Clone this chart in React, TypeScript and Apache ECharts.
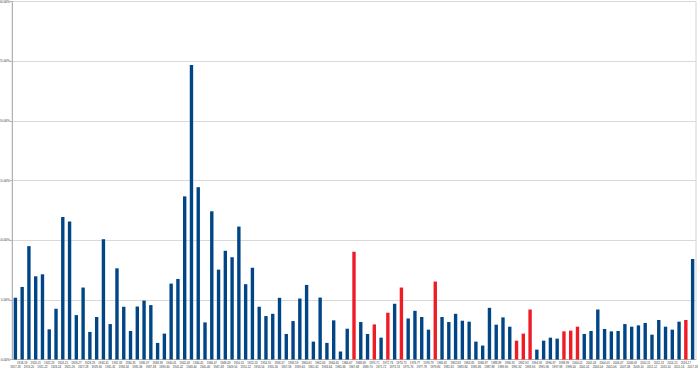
import React, { useEffect, useRef } from "react";
import * as echarts from "echarts";

const startYears: number[] = [];
for (let y = 1917; y <= 2017; y++) startYears.push(y);
const categories = startYears.map((y) => `${y}-${String((y + 1) % 100).padStart(2, "0")}`);

const values = [
  5.17, 6.08, 9.5, 6.97, 7.14, 2.53, 4.25, 11.94, 11.56, 3.72,
  6.03, 2.31, 3.56, 10.08, 2.97, 7.64, 4.42, 2.39, 4.44, 4.94,
  4.56, 1.39, 2.17, 6.36, 6.75, 13.67, 24.67, 14.44, 3.11, 12.42,
  7.53, 9.11, 8.57, 11.14, 6.31, 7.69, 4.42, 3.64, 3.83, 5.17,
  2.14, 3.22, 5.11, 6.25, 1.5, 5.19, 1.39, 3.28, 0.67, 2.58,
  9.03, 3.14, 2.14, 2.94, 1.83, 3.92, 4.67, 6.03, 3.44, 4.08,
  3.56, 2.5, 6.53, 3.56, 3.14, 3.83, 3.25, 3.17, 1.5, 1.17,
  4.33, 2.92, 3.53, 2.75, 1.58, 2.17, 4.19, 0.83, 1.58, 1.83,
  1.75, 2.36, 2.42, 2.75, 2.14, 2.39, 4.19, 2.56, 2.36, 2.39,
  2.97, 2.75, 2.86, 3.06, 2.08, 3.31, 2.75, 2.5, 3.17, 3.31,
  8.42,
];

// 1-based positions of highlighted (red) bars
const highlighted = [51, 54, 56, 58, 63, 75, 76, 77, 82, 83, 84, 100];

const yTicks = [0, 5, 10, 15, 20, 25, 30];

const BLUE = "#004586";
const RED = "#ee1c25";

export default function App() {
  const ref = useRef<HTMLDivElement>(null);
  useEffect(() => {
    if (!ref.current) return;
    const chart = echarts.init(ref.current, undefined, { renderer: "svg" });
    chart.setOption({
      animation: false,
      backgroundColor: "#ffffff",
      grid: {
        left: 12,
        right: 3,
        top: 1.5,
        bottom: 9.5,
        show: true,
        borderColor: "#d4d4d4",
        borderWidth: 1,
        containLabel: false,
        outerBoundsMode: "none",
      },
      xAxis: {
        type: "category",
        data: categories,
        axisLine: { lineStyle: { color: "#b3b3b3", width: 1 } },
        axisTick: { show: false },
        axisLabel: {
          interval: 0,
          hideOverlap: false,
          fontSize: 2.8,
          lineHeight: 4,
          margin: 1.5,
          color: "#333333",
          fontFamily: "Liberation Sans",
          formatter: (v: string, i: number) => (i % 2 === 0 ? "\n" + v : v),
        },
      },
      yAxis: {
        type: "value",
        min: yTicks[0],
        max: yTicks[yTicks.length - 1],
        interval: 5,
        axisLine: { show: true, lineStyle: { color: "#b3b3b3", width: 1 } },
        axisTick: { show: true, length: 2, lineStyle: { color: "#b3b3b3" } },
        splitLine: { lineStyle: { color: "#d9d9d9", width: 1 } },
        axisLabel: {
          fontSize: 3.3,
          margin: 2,
          color: "#333333",
          fontFamily: "Liberation Sans",
          formatter: (v: number) => v.toFixed(2) + "%",
        },
      },
      series: [
        {
          type: "bar",
          barCategoryGap: "50%",
          data: values.map((v, i) => ({
            value: v,
            itemStyle: { color: highlighted.includes(i + 1) ? RED : BLUE },
          })),
        },
      ],
    });
    return () => chart.dispose();
  }, []);
  return <div ref={ref} style={{ width: 699, height: 369, position: "absolute", left: 0, top: 0 }} />;
}
